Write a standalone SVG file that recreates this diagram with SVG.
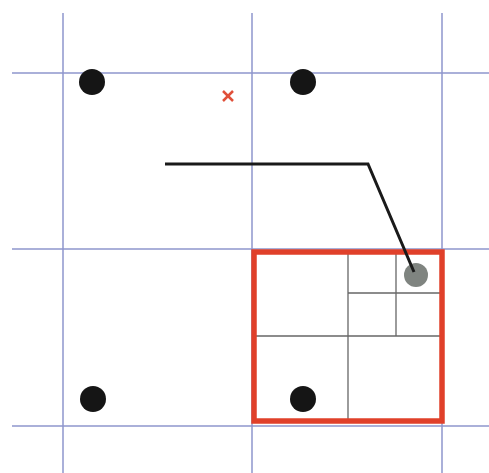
<svg xmlns="http://www.w3.org/2000/svg" width="489" height="473" viewBox="0 0 489 473">
<style>
.grid{stroke:#8e96cc;stroke-width:1.5;fill:none}
.sub{stroke:#666;stroke-width:1.3;fill:none}
.dot{fill:#151515}
</style>
<rect width="489" height="473" fill="#fff"/>
<g id="grid">
<line class="grid" x1="63" y1="13" x2="63" y2="473"/>
<line class="grid" x1="252" y1="13" x2="252" y2="473"/>
<line class="grid" x1="442" y1="13" x2="442" y2="473"/>
<line class="grid" x1="12" y1="73" x2="489" y2="73"/>
<line class="grid" x1="12" y1="249" x2="489" y2="249"/>
<line class="grid" x1="12" y1="426" x2="489" y2="426"/>
</g>
<g id="cell">
<line class="sub" x1="348" y1="251" x2="348" y2="421"/>
<line class="sub" x1="254" y1="336" x2="442" y2="336"/>
<line class="sub" x1="396" y1="251" x2="396" y2="336"/>
<line class="sub" x1="348" y1="293" x2="442" y2="293"/>
<rect x="254" y="252" width="188" height="169" fill="none" stroke="#e0402a" stroke-width="5.5"/>
</g>
<g id="dots">
<circle class="dot" cx="92" cy="82" r="13"/>
<circle class="dot" cx="303" cy="82" r="13"/>
<circle class="dot" cx="93" cy="399" r="13"/>
<circle class="dot" cx="303" cy="399" r="13"/>
<circle cx="416" cy="275" r="12" fill="#7f8480"/>
</g>
<g id="cross" stroke="#e0503a" stroke-width="2.5">
<line x1="223" y1="91" x2="233" y2="101"/>
<line x1="233" y1="91" x2="223" y2="101"/>
</g>
<g id="connectors">
<polyline points="165,164 368,164 414,272" fill="none" stroke="#1a1a1a" stroke-width="3"/>
</g>
</svg>
